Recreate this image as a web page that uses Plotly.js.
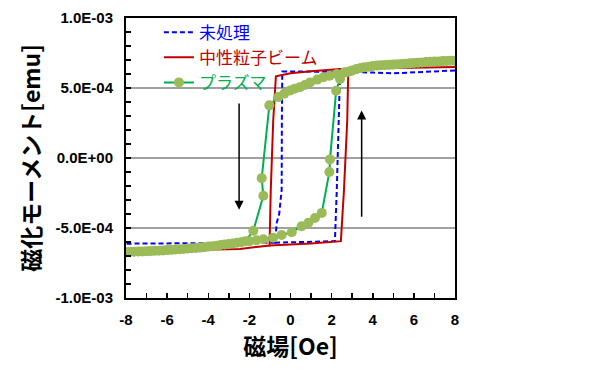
<!DOCTYPE html>
<html>
<head>
<meta charset="utf-8">
<script src="https://cdn.plot.ly/plotly-3.0.1.min.js"></script>
<style>html,body{margin:0;padding:0;background:#fff;}#chart{width:600px;height:382px;}</style>
</head>
<body>
<div id="chart"></div>
<script>
// Series names
const seriesNames = ['未処理', '中性粒子ビーム', 'プラズマ'];

// 未処理 (untreated) — field [Oe], moment [x1e-4 emu]; null separates branches
const untreatedX = [8, 7, 6, 5, 4, 3, 2.41, 1, 0, -0.4, -0.42, -0.43, -0.55, -0.67, -0.75, -2, -4, -6, -8,
  null, -0.75, 0.5, 1.5, 2.16, 2.25, 2.33, 2.38, 2.41];
const untreatedY = [6.25, 6.2, 6.1, 6.05, 6.1, 6.15, 6.15, 6.17, 6.17, 6.17, 2.7, -2.27, -4.0, -4.63, -6.05, -6.08, -6.08, -6.1, -6.12,
  null, -6.05, -6.02, -5.98, -5.94, -2.3, 2.7, 5.0, 6.15];

// 中性粒子ビーム (neutral beam)
const neutralX = [8, 7, 6, 5, 4, 2.81, 2.42, 1, 0, -0.71, -0.84, -0.96, -1.02, -2.46, -4, -6, -8,
  null, -1.02, 0, 1, 2.45, 2.6, 2.76, 2.81];
const neutralY = [6.5, 6.47, 6.45, 6.42, 6.4, 6.36, 6.36, 6.2, 6.05, 5.84, 2.7, -2.3, -6.25, -6.5, -6.55, -6.6, -6.62,
  null, -6.25, -6.2, -6.1, -5.94, -2.3, 2.7, 6.36];

// プラズマ (plasma)
const plasmaX = [8, 7.6, 7.2, 6.8, 6.4, 6.0, 5.6, 5.2, 4.8, 4.4, 4.0, 3.6, 3.2, 2.9, 2.6, 2.25, 1.9, 1.6, 1.3, 0.95, 0.7, 0.46, 0.2, -0.02, -0.3, -0.59, -1.03,
  -1.40, -1.32, -1.81,
  -2.2, -2.6, -3.0, -3.4, -3.8, -4.2, -4.6, -5.0, -5.4, -5.8, -6.2, -6.6, -7.0, -7.4, -7.8, -8,
  -7.6, -7.2, -6.8, -6.4, -6.0, -5.6, -5.2, -4.8, -4.4, -4.0, -3.6, -3.2, -2.8, -2.4, -2.0, -1.65, -1.32, -0.84, -0.43, 0.06, 0.54, 0.87, 1.19, 1.52,
  1.89, 1.92, 2.22, 2.41,
  2.75, 3.0, 3.4, 3.8, 4.2, 4.6, 5.0, 5.4, 5.8, 6.2, 6.6, 7.0, 7.4, 7.8];
const plasmaY = [6.95, 6.93, 6.9, 6.88, 6.83, 6.78, 6.74, 6.7, 6.66, 6.62, 6.57, 6.48, 6.36, 6.2, 6.1, 6.0, 5.88, 5.77, 5.6, 5.4, 5.22, 5.06, 4.95, 4.82, 4.6, 4.35, 3.76,
  -1.44, -2.7, -5.2,
  -5.95, -6.05, -6.15, -6.22, -6.3, -6.37, -6.42, -6.47, -6.52, -6.56, -6.6, -6.63, -6.66, -6.68, -6.7, -6.72,
  -6.7, -6.67, -6.65, -6.62, -6.58, -6.54, -6.5, -6.45, -6.4, -6.33, -6.26, -6.18, -6.1, -6.02, -5.95, -5.88, -5.8, -5.7, -5.5, -5.3, -4.87, -4.63, -4.28, -3.92,
  -1.0, -0.1, 4.8, 5.65,
  6.15, 6.25, 6.42, 6.52, 6.6, 6.64, 6.68, 6.72, 6.76, 6.8, 6.85, 6.89, 6.92, 6.95];

// Tick values and labels
const xTickVals = [-8, -6, -4, -2, 0, 2, 4, 6, 8];
const xTickText = ['-8', '-6', '-4', '-2', '0', '2', '4', '6', '8'];
const yTickVals = [-1e-3, -5e-4, 0, 5e-4, 1e-3];
const yTickText = ['-1.0E-03', '-5.0E-04', '0.0E+00', '5.0E-04', '1.0E-03'];
const scale = 1e-4;

const toEmu = arr => arr.map(v => v === null ? null : v * scale);

const colors = {blue: '#0000FF', red: '#C00000', green: '#00B050', marker: '#9BBB59'};

const traces = [
  {x: untreatedX, y: toEmu(untreatedY), mode: 'lines', connectgaps: false,
   name: '<span style="color:' + colors.blue + '">' + seriesNames[0] + '</span>',
   line: {color: colors.blue, width: 2, dash: '5px,3px'}},
  {x: neutralX, y: toEmu(neutralY), mode: 'lines', connectgaps: false,
   name: '<span style="color:' + colors.red + '">' + seriesNames[1] + '</span>',
   line: {color: colors.red, width: 2}},
  {x: plasmaX, y: toEmu(plasmaY), mode: 'lines+markers',
   name: '<span style="color:' + colors.green + '">' + seriesNames[2] + '</span>',
   line: {color: colors.green, width: 2},
   marker: {color: colors.marker, size: 10}}
];

const tickFont = {family: 'Liberation Sans, Arial, sans-serif', size: 15, color: '#000', weight: 'bold'};
const titleFont = {family: 'Noto Sans CJK JP, sans-serif', size: 23, color: '#000', weight: 'bold'};

const layout = {
  width: 600, height: 382,
  margin: {l: 126, r: 145, t: 18, b: 84},
  paper_bgcolor: '#fff', plot_bgcolor: '#fff',
  showlegend: true,
  legend: {x: 0.1, y: 1.012, xanchor: 'left', yanchor: 'top', bgcolor: 'rgba(0,0,0,0)',
           font: {family: 'Noto Sans CJK JP, sans-serif', size: 17}, tracegroupgap: 0},
  xaxis: {
    range: [-8, 8], tickmode: 'array', tickvals: xTickVals, ticktext: xTickText,
    ticks: 'inside', ticklen: 5, tickwidth: 1.5, tickcolor: '#000',
    minor: {dtick: 1, tick0: 0, ticks: 'inside', ticklen: 5, tickwidth: 1.5, tickcolor: '#000', showgrid: false},
    showgrid: false, zeroline: false, showline: true, linecolor: '#000', linewidth: 2, mirror: true,
    tickfont: tickFont, ticklabelstandoff: 7,
    title: {text: '磁場[Oe]', font: titleFont, standoff: 10}
  },
  yaxis: {
    range: [-1e-3, 1e-3], tickmode: 'array', tickvals: yTickVals, ticktext: yTickText,
    ticks: 'inside', ticklen: 5, tickwidth: 1.5, tickcolor: '#000',
    minor: {dtick: 1e-4, tick0: 0, ticks: 'inside', ticklen: 5, tickwidth: 1.5, tickcolor: '#000', showgrid: false},
    showgrid: true, gridcolor: '#A0A0A0', gridwidth: 1.5,
    zeroline: false, showline: true, linecolor: '#000', linewidth: 2, mirror: true,
    tickfont: tickFont, ticklabelstandoff: 8,
    title: {text: '磁化モーメント[emu]', font: titleFont, standoff: 8}
  },
  annotations: [
    {x: -2.5, y: -3.7e-4, ax: -2.5, ay: 4.0e-4, xref: 'x', yref: 'y', axref: 'x', ayref: 'y',
     text: '', showarrow: true, arrowhead: 2, arrowsize: 1.2, arrowwidth: 1.5, arrowcolor: '#000', standoff: 0},
    {x: 3.46, y: 3.4e-4, ax: 3.46, ay: -4.3e-4, xref: 'x', yref: 'y', axref: 'x', ayref: 'y',
     text: '', showarrow: true, arrowhead: 2, arrowsize: 1.2, arrowwidth: 1.5, arrowcolor: '#000', standoff: 0}
  ]
};

Plotly.newPlot('chart', traces, layout, {staticPlot: true, displayModeBar: false});
</script>
</body>
</html>
